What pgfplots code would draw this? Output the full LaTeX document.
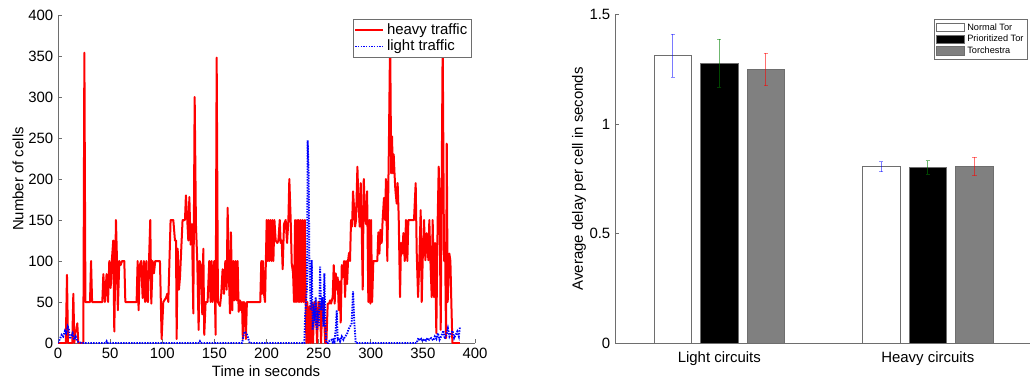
\documentclass[border=0pt]{standalone}
\usepackage{pgfplots}
\pgfplotsset{compat=1.18}
\usepackage{fontspec}
\setmainfont{Liberation Sans}

\definecolor{axgray}{RGB}{110,110,110}
\definecolor{bargray}{RGB}{128,128,128}

\pgfplotsset{
  common/.style={
    scale only axis,
    anchor=south west,
    axis lines*=left,
    axis line style={axgray,line width=0.6pt,-},
    tick align=inside,
    major tick length=3pt,
    tick style={axgray,line width=0.6pt},
    /pgf/number format/assume math mode=true,
    tick label style={font=\fontsize{11.2}{13}\selectfont,text=black},
    label style={font=\fontsize{11.2}{13}\selectfont},
  },
  patch/.style={legend image code/.code={%
    \draw[fill=#1,draw=axgray,line width=0.5pt] (0pt,-3.1pt) rectangle (20.8pt,3.1pt);}},
}

\begin{document}
\begin{tikzpicture}
\path[use as bounding box] (0,0) rectangle (773.25pt,286.5pt);

% ---- cells per second over time ----
\begin{axis}[common,
  at={(43.5pt,29.25pt)},
  width=312.75pt, height=246pt,
  xmin=0, xmax=400, ymin=0, ymax=400,
  xtick={0,50,...,400}, ytick={0,50,...,400},
  xlabel={Time in seconds},
  ylabel={Number of cells},
  xlabel style={at={(axis description cs:0.499,-0.085)},anchor=center},
  ylabel style={at={(axis description cs:-0.096,0.5)},anchor=center},
  legend style={at={(axis description cs:0.992,0.988)},anchor=north east,
    draw=axgray, line width=0.6pt, fill=white,
    font=\fontsize{11.2}{12.5}\selectfont, inner sep=1pt, row sep=-1pt},
  legend cell align=left,
  legend image code/.code={\draw[#1] (0pt,0pt) -- (21pt,0pt);},
]
\addplot[red, line width=1.5pt, line join=round] coordinates {
(0,0) (7.5,0) (8.6,83) (9.6,0) (13.7,0) (14.7,60) (15.7,0) (16.5,14) (17.5,14)
(18.5,24) (19.5,0) (24.3,0) (25.3,354) (26.3,50) (30.7,50) (31.7,100) (32.7,50)
(42.5,50) (43.5,84) (45,50) (46.6,84) (48,50) (49.2,100) (50.5,67) (51.6,100)
(53,125) (54,14) (55.6,150) (56.6,100) (57.4,40) (58.8,100) (60,95) (61.5,100)
(63.6,100) (64.6,50) (75.4,50) (76.4,100) (77.3,40) (78.5,95) (79.8,100) (81.2,55)
(82.4,100) (83.5,50) (84.7,100) (85.5,52) (86.3,50) (87.3,100) (88.5,150) (89.5,48)
(90.8,100) (92,85) (93.3,100) (97.8,100) (99.4,5) (101,50) (103.6,55) (104.8,60)
(105.8,50) (108,150) (110.6,150) (112.2,125) (113.2,125) (113.8,5) (114.8,115)
(116,65) (117,80) (119.5,150) (121.8,150) (122.7,180) (124,150) (125,125) (126,178)
(127.2,120) (128.5,145) (129.8,36) (131.1,300) (132.3,145) (133.6,100) (134.9,16)
(135.9,100) (137.1,95) (138.4,35) (139.4,115) (140.3,10) (141.6,50) (143.5,50)
(145.1,100) (146.4,50) (147.4,100) (148.3,50) (149.9,100) (151.2,10) (152.2,348)
(153.4,50) (155.4,45) (156.6,60) (157.9,90) (159.2,60) (160.5,100) (161.8,65)
(162.7,165) (164,80) (165,36) (165.9,135) (167.2,40) (168.2,100) (169.1,52)
(170.4,100) (171.4,52) (172.3,100) (173.3,38) (174.6,52) (175.5,40) (176.5,50)
(177.3,5) (178.3,50) (179.2,48) (180.2,5) (181.2,50) (194,50) (195,100) (195.7,60)
(196.6,100) (197.6,60) (198.6,50) (200.2,150) (201.2,100) (201.8,150) (202.8,100)
(203.7,150) (205,100) (205.6,150) (206.6,100) (207.6,150) (208.8,125) (210.4,122)
(211.4,125) (212.7,150) (213.6,122) (214.6,125) (215.5,90) (216.8,145) (218.4,150)
(219.7,122) (221,150) (221.9,200) (223.2,150) (224.2,97) (225.5,85) (226.4,50)
(227.4,150) (228.3,50) (229.3,150) (230.3,50) (230.9,150) (231.9,50) (232.8,150)
(233.8,50) (234.7,150) (235.7,50) (236.7,150) (237.6,50) (238.3,0) (239.2,50)
(240.2,0) (241.5,45) (242.4,0) (243.4,50) (244.6,0) (245.9,50) (247.2,50) (248.5,0)
(249.8,50) (251.4,48) (252.3,0) (253.6,48) (254.9,50) (256.2,0) (257.4,0) (258.7,48)
(260,48) (261,52) (261.9,48) (263.5,56) (264.5,95) (265.4,48) (266.4,85) (267.4,65)
(268.3,80) (269.3,40) (270.2,75) (271.2,25) (272.2,95) (273.1,80) (274.4,100)
(275.4,56) (276.3,100) (277.3,72) (278.2,100) (279.2,110) (280.1,100) (281.1,150)
(282.1,142) (283,185) (284,165) (285,142) (285.9,150) (287.2,215) (288.1,175)
(289.4,142) (290.4,195) (291.3,145) (292.3,65) (293.3,200) (294.5,155) (295.5,145)
(296.5,185) (297.7,50) (298.7,150) (299.7,48) (300.3,150) (301.3,50) (302.5,100)
(306.3,100) (307.3,135) (308.3,109) (309.2,138) (310.5,122) (311.4,150) (312.7,177)
(313.7,150) (314.6,200) (315.9,100) (317.4,240) (318.6,375) (319.6,207) (320.4,252)
(321.2,207) (322,230) (322.8,207) (323.6,187) (324.9,170) (325.8,195) (326.8,154)
(328.1,56) (329,122) (330.3,109) (331.3,134) (332.6,100) (333.8,150) (335.1,100)
(336.1,150) (341.5,150) (343.1,195) (344.1,110) (345.4,56) (346.6,100) (347.9,162)
(348.9,50) (349.8,100) (351.1,150) (352.4,101) (353.7,134) (355.3,101) (356.2,150)
(357.2,101) (358.5,56) (359.4,150) (360.7,56) (361.7,122) (362.9,12) (364.2,150)
(365.2,215) (366.1,170) (367.1,16) (368.1,200) (369,370) (370.3,100) (371.3,122)
(372.2,6) (372.9,243) (373.8,50) (375.4,109) (376.4,100) (377.3,50) (378.3,0)
(385.6,0)
};
\addlegendentry{heavy traffic}
\addplot[blue, line width=1.4pt, dash pattern=on 1.1pt off 0.9pt] coordinates {
(0,0) (1.9,5) (3.5,10) (5,8) (6.7,15) (8,12) (9.3,20) (10.5,16) (11.5,5) (12.5,8)
(14,12) (15.5,4) (17,8) (18.5,2) (20,1) (22.7,0) (46,0) (46.7,2) (47.5,0)
(135.5,0) (136.2,2) (137,0) (176.5,0) (177.8,8) (179,14) (180.2,12) (181.4,10)
(182.6,5) (183.8,0) (236.3,0) (237,32) (237.9,49) (238.9,69) (239.5,247)
(240.5,203) (241.1,101) (242.4,40) (243.4,101) (244.3,16) (245.3,40) (246.3,32)
(247.2,56) (248.2,16) (249.1,40) (250.4,20) (251.4,93) (252.3,40) (253.6,56)
(254.6,20) (255.5,85) (256.5,20) (257.4,0) (259.4,0) (260.5,3) (262.6,4) (263.5,1)
(264.2,6) (265.3,2) (266.4,16) (267.4,40) (268.3,4) (269.6,6) (270.6,2) (272.2,8)
(273.8,4) (275.4,8) (277,10) (278.5,16) (280.1,20) (281.7,24) (283,63) (284.3,24)
(285.6,0) (344,0) (345.7,6) (347,3) (348.5,5) (350,2) (351.5,5) (353,3) (354.5,6)
(356,4) (358,6) (360,3) (361.5,8) (363,5) (364.5,12) (366,4) (367.5,8) (369.7,15)
(371,5) (372.5,10) (374,18) (375.5,8) (377,12) (378.5,15) (380,6) (381.5,10)
(383,14) (384.5,8) (385.6,20)
};
\addlegendentry{light traffic}
\end{axis}

% ---- average delay per cell ----
\begin{axis}[common,
  at={(461.25pt,29.0pt)},
  width=311.25pt, height=246.75pt,
  xmin=0.5, xmax=2.49, ymin=0, ymax=1.5,
  xtick={1,2}, xticklabels={Light circuits,Heavy circuits},
  ytick={0,0.5,1,1.5},
  x tick style={draw=none},
  ylabel={Average delay per cell in seconds},
  ylabel style={at={(axis description cs:-0.0867,0.5)},anchor=center},
  ybar, bar width=0.179,
  legend style={at={(axis description cs:0.995,0.986)},anchor=north east,
    draw=axgray, line width=0.6pt, fill=white,
    font=\fontsize{6.9}{8}\selectfont, inner sep=1pt, row sep=-1.8pt},
  legend cell align=left,
  error bars/y dir=both, error bars/y explicit,
]
\addplot[fill=white, draw=axgray, line width=0.6pt, bar shift=-0.2233, forget plot,
  error bars/error bar style={blue, draw opacity=0.45, line width=0.6pt},
  error bars/error mark options={rotate=90, mark size=1.6pt, blue, draw opacity=0.45, line width=0.6pt}]
  coordinates {(1,1.311) +- (0,0.098) (2,0.805) +- (0,0.023)};
\addplot[fill=black, draw=axgray, line width=0.6pt, bar shift=0, forget plot,
  error bars/error bar style={green!50!black, draw opacity=0.5, line width=0.6pt},
  error bars/error mark options={rotate=90, mark size=1.6pt, green!50!black, draw opacity=0.5, line width=0.6pt}]
  coordinates {(1,1.2765) +- (0,0.11) (2,0.802) +- (0,0.031)};
\addplot[fill=bargray, draw=axgray, line width=0.6pt, bar shift=0.2233, forget plot,
  error bars/error bar style={red, draw opacity=0.5, line width=0.6pt},
  error bars/error mark options={rotate=90, mark size=1.6pt, red, draw opacity=0.5, line width=0.6pt}]
  coordinates {(1,1.2485) +- (0,0.074) (2,0.806) +- (0,0.042)};
\addlegendimage{patch=white}
\addlegendentry{Normal Tor}
\addlegendimage{patch=black}
\addlegendentry{Prioritized Tor}
\addlegendimage{patch=bargray}
\addlegendentry{Torchestra}
\end{axis}
\end{tikzpicture}
\end{document}
